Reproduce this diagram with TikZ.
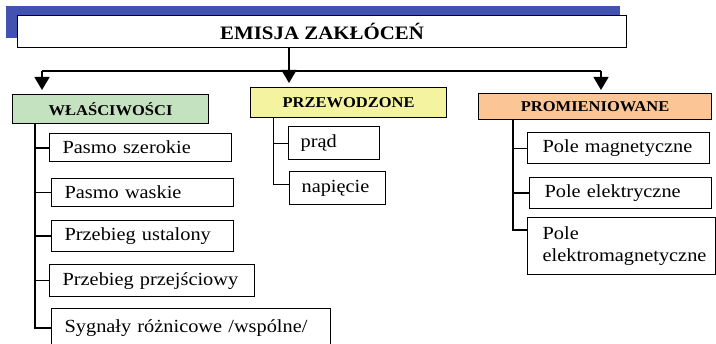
\documentclass[tikz,border=0pt]{standalone}
\usepackage{fontspec}
\setmainfont{Liberation Serif}[FakeStretch=1.1]
\usetikzlibrary{arrows.meta}
\definecolor{cgreen}{RGB}{197,226,192}
\definecolor{cyellow}{RGB}{243,243,160}
\definecolor{corange}{RGB}{251,197,150}
\definecolor{cshadow}{RGB}{66,82,178}
\tikzset{
  leaf/.style={draw, line width=1.2pt, anchor=north west, align=left, inner xsep=13pt, inner ysep=0pt,
    font=\fontsize{18.5}{22}\selectfont},
  head/.style={draw, line width=1.2pt, anchor=north west, align=center, inner sep=0pt,
    font=\fontsize{15}{18}\selectfont\bfseries},
  trunk/.style={line width=2pt},
  twig/.style={line width=1pt},
  arr/.style={line width=1.5pt, -{Triangle[width=15pt,length=13pt]}}
}
\begin{document}
\begin{tikzpicture}[x=1pt,y=-1pt]
\useasboundingbox (0,0) rectangle (716,344);
% title with shadow
\fill[cshadow] (6,6) rectangle (620,38);
\node[draw, fill=white, line width=1.2pt, anchor=north west, minimum width=609pt, minimum height=32pt, inner sep=0pt,
  font=\fontsize{19}{22}\selectfont\bfseries] (title) at (17,15) {EMISJA ZAKŁÓCEŃ};
% headers
\node[head, fill=cgreen, minimum width=196pt, minimum height=29pt] (wl) at (12,94) {WŁAŚCIWOŚCI};
\node[head, fill=cyellow, minimum width=196pt, minimum height=30pt] (pz) at (250,87) {PRZEWODZONE};
\node[head, fill=corange, minimum width=233pt, minimum height=26pt] (pm0) at (478,93) {PROMIENIOWANE};
% leaves left
\node[leaf, text width=156pt, minimum height=28pt] (ps) at (49,133) {\mbox{Pasmo szerokie}};
\node[leaf, text width=156pt, minimum height=28pt] (pw) at (51,178) {\mbox{Pasmo waskie}};
\node[leaf, text width=156pt, minimum height=31pt] (pu) at (51,220) {\mbox{Przebieg ustalony}};
\node[leaf, text width=179pt, minimum height=32pt] (pp) at (49,264) {\mbox{Przebieg przejściowy}};
\node[leaf, text width=253pt, minimum height=38pt] (sy) at (51,308) {\mbox{Sygnały różnicowe /wspólne/}};
% leaves middle
\node[leaf, inner xsep=12pt, text width=67pt, minimum height=33pt] (pr) at (288,126) {\mbox{prąd}};
\node[leaf, inner xsep=12pt, text width=72pt, minimum height=33pt] (na) at (289,171) {\mbox{napięcie}};
% leaves right
\node[leaf, inner xsep=15pt, text width=152pt, minimum height=31pt] (pm) at (527,132) {\mbox{Pole magnetyczne}};
\node[leaf, inner xsep=15pt, text width=152pt, minimum height=31pt] (pe) at (529,177) {\mbox{Pole elektryczne}};
\node[leaf, inner xsep=15pt, text width=158pt, minimum height=57pt] (pem) at (527,217) {Pole\\elektromagnetyczne};
% top connectors
\coordinate (tj) at (289,71);
\coordinate (hl) at (42,71);
\coordinate (hr) at (601,71);
\coordinate (a1) at (42,90);
\coordinate (a2) at (289,83);
\coordinate (a3) at (601,90);
\draw[line width=1.2pt] (title.south -| tj) -- (tj);
\draw[trunk] (hl) -- (hr);
\draw[arr] (hl) -- (a1);
\draw[arr] (tj) -- (a2);
\draw[arr] (hr) -- (a3);
% left trunk
\coordinate (lt) at (35,328);
\draw[trunk] (wl.south -| lt) -- (lt) -- (lt -| sy.west);
\draw[trunk] (ps.west -| lt) -- (ps.west);
\draw[twig] (pw.west -| lt) -- (pw.west);
\draw[trunk] (pu.west -| lt) -- (pu.west);
\draw[twig] (pp.west -| lt) -- (pp.west);
% middle trunk
\coordinate (mt) at (273,185);
\draw[twig] (pz.south -| mt) -- (mt) -- (mt -| na.west);
\draw[twig] (pr.west -| mt) -- (pr.west);
% right trunk
\coordinate (rt) at (513,230);
\draw[trunk] (pm0.south -| rt) -- (rt) -- (rt -| pem.west);
\draw[twig] (pm.west -| rt) -- (pm.west);
\draw[trunk] (pe.west -| rt) -- (pe.west);
\end{tikzpicture}
\end{document}
